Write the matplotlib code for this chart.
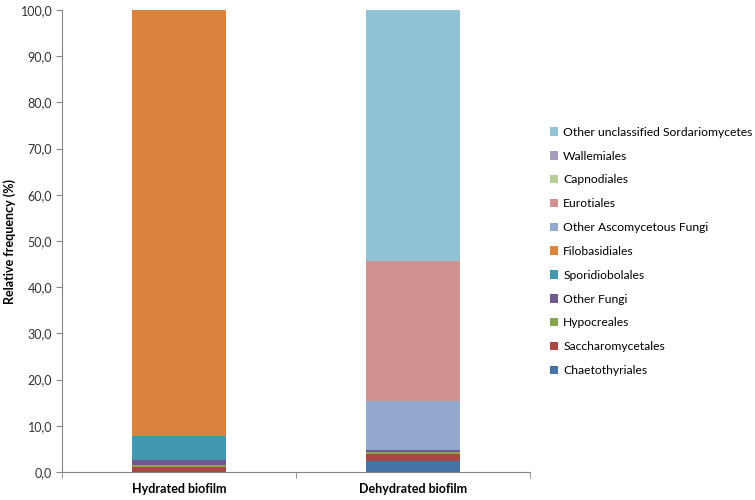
import matplotlib
matplotlib.use("Agg")
import matplotlib.pyplot as plt
import numpy as np

plt.rcParams['font.family'] = ['Lato', 'DejaVu Sans']

categories = ["Hydrated biofilm", "Dehydrated biofilm"]
series_names = ["Chaetothyriales", "Saccharomycetales", "Hypocreales", "Other Fungi",
                "Sporidiobolales", "Filobasidiales", "Other Ascomycetous Fungi",
                "Eurotiales", "Capnodiales", "Wallemiales",
                "Other unclassified Sordariomycetes"]
hydrated = [0.0, 1.1, 0.4, 1.2, 5.2, 92.1, 0.0, 0.0, 0.0, 0.0, 0.0]
dehydrated = [2.4, 1.6, 0.4, 0.3, 0.0, 0.1, 10.5, 30.4, 0.0, 0.0, 54.3]
colors = ["#4572A7", "#AA4643", "#89A54E", "#71588F", "#4198AF", "#DB843D",
          "#93A9CF", "#D19392", "#B9CD96", "#A99BBD", "#92C3D4"]
yticks = np.arange(0, 101, 10)

fig = plt.figure(figsize=(7.55, 5.0), dpi=100)
ax = fig.add_axes([0.0821, 0.056, 0.62, 0.924])

x = np.arange(len(categories))
bottom = np.zeros(len(categories))
handles = []
for name, h, d, c in zip(series_names, hydrated, dehydrated, colors):
    vals = np.array([h, d])
    b = ax.bar(x, vals, 0.4, bottom=bottom, color=c, label=name, linewidth=0)
    handles.append(b)
    bottom += vals

ax.set_xlim(-0.5, 1.5)
ax.set_ylim(0, 100)
ax.set_yticks(yticks)
ax.set_yticklabels([f"{v:.1f}".replace('.', ',') for v in yticks], fontsize=9, color="#333333")
ax.set_xticks(x)
ax.set_xticklabels(categories, fontsize=9, fontweight='bold')
ax.tick_params(axis='x', length=0, pad=8)
ax.set_xticks([-0.5, 0.5, 1.5], minor=True)
ax.tick_params(axis='x', which='minor', length=4, color="#868686")
ax.tick_params(axis='y', length=4, color="#868686", pad=3)
for s in ['top', 'right']:
    ax.spines[s].set_visible(False)
for s in ['left', 'bottom']:
    ax.spines[s].set_color("#868686")
ax.set_ylabel("Relative frequency (%)", fontsize=9, fontweight='bold', labelpad=3)

leg = fig.legend(handles[::-1], series_names[::-1], loc='upper left',
                 bbox_to_anchor=(0.714, 0.768), frameon=False, fontsize=8.7,
                 handlelength=0.7, handleheight=0.7, handletextpad=0.4,
                 labelspacing=1.06)

fig.savefig("out.png", dpi=100)
